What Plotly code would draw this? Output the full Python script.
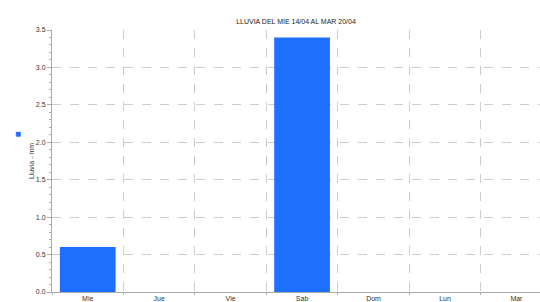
import plotly.graph_objects as go

days = ["Mie", "Jue", "Vie", "Sab", "Dom", "Lun", "Mar"]
rain_mm = [0.6, 0, 0, 3.4, 0, 0, 0]
title_text = "LLUVIA DEL MIE 14/04 AL MAR 20/04"
y_title = "Lluvia - mm"

fig = go.Figure()
fig.add_trace(go.Bar(
    x=days, y=rain_mm, width=0.78,
    marker=dict(color="#1f6fff", line=dict(width=0)),
    showlegend=False,
))

fig.update_layout(
    width=540, height=302,
    margin=dict(l=52, r=0, t=30, b=10),
    paper_bgcolor="white", plot_bgcolor="white",
    font=dict(family="Liberation Sans, Arial, sans-serif", size=7, color="#333"),
    title=dict(text=title_text, x=296/540, xanchor="center", y=1-22/302, yanchor="middle",
               font=dict(size=7, color="#222")),
)
fig.update_xaxes(
    type="category", range=[-0.5, 6.33], automargin=False,
    showline=True, linecolor="#aaa", linewidth=1,
    tickson="boundaries", ticks="outside", ticklen=2, tickcolor="#aaa",
    showgrid=True, gridcolor="#cccccc", griddash="dash", gridwidth=1,
    tickfont=dict(size=7, color="#333"),
)
fig.update_yaxes(
    range=[0, 3.5], dtick=0.5, tickformat=".1f", automargin=False,
    showline=True, linecolor="#aaa", linewidth=1,
    ticks="outside", ticklen=4, tickcolor="#aaa",
    minor=dict(dtick=0.1, ticks="outside", ticklen=2, tickcolor="#aaa", showgrid=False),
    showgrid=True, gridcolor="#cccccc", griddash="dash", gridwidth=1,
    zeroline=False,
    tickfont=dict(size=7, color="#333"),
    title=dict(text=y_title, font=dict(size=7, color="#333"), standoff=0),
)
fig.add_annotation(
    xref="paper", yref="paper", x=-34/488, y=(292-133)/262,
    text="■", showarrow=False, font=dict(size=10, color="#1f6fff"),
    xanchor="center", yanchor="middle",
)

fig.write_html("out.html", config={"displayModeBar": False},
               post_script="document.body.style.margin='0';document.body.style.overflow='hidden';")
